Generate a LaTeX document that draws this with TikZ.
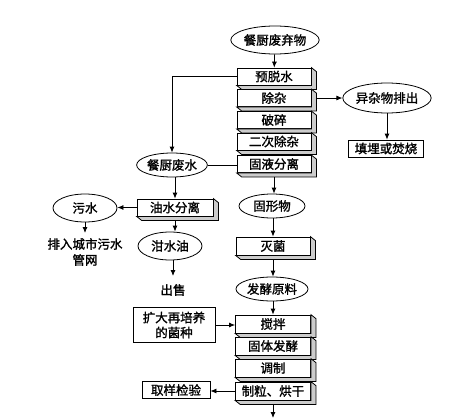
\documentclass[tikz,border=0pt]{standalone}
\usepackage{fontspec}
\setmainfont{Noto Sans CJK SC}[FakeBold=1.5]
\usetikzlibrary{arrows.meta,shapes.geometric}

\begin{document}
\begin{tikzpicture}[x=1pt,y=-1pt,
  >={Latex[length=6pt,width=5pt]},
  every node/.style={font=\fontsize{12.5}{15}\selectfont,inner sep=0pt},
  oval/.style={ellipse,draw,thick,fill=white},
  slab/.style={draw,thick,fill=white,minimum width=74pt,minimum height=17pt},
  plain/.style={draw,thick,fill=white,minimum height=17pt},
  link/.style={thick}]
\useasboundingbox (0,0) rectangle (459,418);
% main column: treatment of the raw waste
\node[oval,minimum width=78pt,minimum height=28pt] (waste) at (275,40) {餐厨废弃物};
\node[slab] (dewater) at (274,76.5) {预脱水};
\node[slab] (sort) at (274,98) {除杂};
\node[slab] (crush) at (274,120) {破碎};
\node[slab] (resort) at (274,141.5) {二次除杂};
\node[slab] (split) at (274,164) {固液分离};
% impurities branch
\node[oval,minimum width=72pt,minimum height=30pt] (junk) at (387,98) {异杂物排出};
\node[plain,minimum width=75pt] (landfill) at (386,148.5) {填埋或焚烧};
% solid branch
\node[oval,minimum width=66pt,minimum height=24pt] (solid) at (272,206) {固形物};
\node[slab,minimum height=18pt] (steril) at (273,246) {灭菌};
\node[oval,minimum width=72pt,minimum height=24pt] (feed) at (272,289) {发酵原料};
\node[slab,minimum width=75pt,minimum height=18pt] (stir) at (273,324) {搅拌};
\node[slab,minimum width=75pt,minimum height=18pt] (ferment) at (273,346) {固体发酵};
\node[slab,minimum width=75pt,minimum height=18pt] (adjust) at (273,368) {调制};
\node[slab,minimum width=75pt,minimum height=18pt] (granul) at (273,391) {制粒、烘干};
\node[plain,minimum width=82pt,minimum height=35pt,align=center] (strain) at (174,325) {扩大再培养\\的菌种};
\node[plain,minimum width=68pt] (sample) at (176,390) {取样检验};
\coordinate (out) at (273,418);
% liquid branch
\node[oval,minimum width=66pt,minimum height=24pt] (wastewater) at (172,165) {餐厨废水};
\node[slab,minimum width=76pt] (oilsep) at (175,207.5) {油水分离};
\node[oval,minimum width=64pt,minimum height=28pt] (sewage) at (85,208) {污水};
\node[oval,minimum width=64pt,minimum height=28pt] (swill) at (170,246) {泔水油};
\node[align=center,font=\fontsize{12.5}{16}\selectfont] (pipe) at (85,252) {排入城市污水\\管网};
\node (sale) at (173,290) {出售};
\coordinate (pipetip) at (85,233);
\coordinate (saletip) at (173,276);
% bevels of the slabs
\foreach \n in {dewater,sort,crush,resort,split,steril,stir,ferment,adjust,granul,oilsep}
  \draw[thick,fill=gray!40] (\n.north east) -- ([shift={(5,4)}]\n.north east)
    -- ([shift={(5,4)}]\n.south east) -- ([shift={(5,4)}]\n.south west)
    -- (\n.south west) -- (\n.south east) -- cycle;
% connectors
\draw[link,->] (waste) -- (dewater);
\draw[link,->] ([xshift=5pt]sort.east) -- (junk.west);
\draw[link,->] (junk.south) -- (landfill.north -| junk.south);
\draw[link,->] (dewater.west) -| (wastewater.north);
\draw[link] (wastewater.east) -- (wastewater.east -| split.west);
\draw[link,->] ([yshift=-4pt]split.south) -- (solid.north -| split.south);
\draw[link,->] (solid.south -| steril.north) -- (steril.north);
\draw[link,->] ([yshift=-4pt]steril.south) -- (feed.north -| steril.south);
\draw[link,->] (feed.south -| stir.north) -- (stir.north);
\draw[link,->] (strain.east) -- (strain.east -| stir.west);
\draw[link,->] (granul.west) -- (granul.west -| sample.east);
\draw[link,->] ([yshift=-4pt]granul.south) -- (out);
\draw[link,->] (wastewater.south -| oilsep.north) -- (oilsep.north);
\draw[link,->] (oilsep.west) -- (oilsep.west -| sewage.east);
\draw[link,->] ([yshift=-4pt]oilsep.south) -- (swill.north -| oilsep.south);
\draw[link,->] (sewage.south) -- (pipetip);
\draw[link,->] (swill.south -| saletip) -- (saletip);
\end{tikzpicture}
\end{document}
